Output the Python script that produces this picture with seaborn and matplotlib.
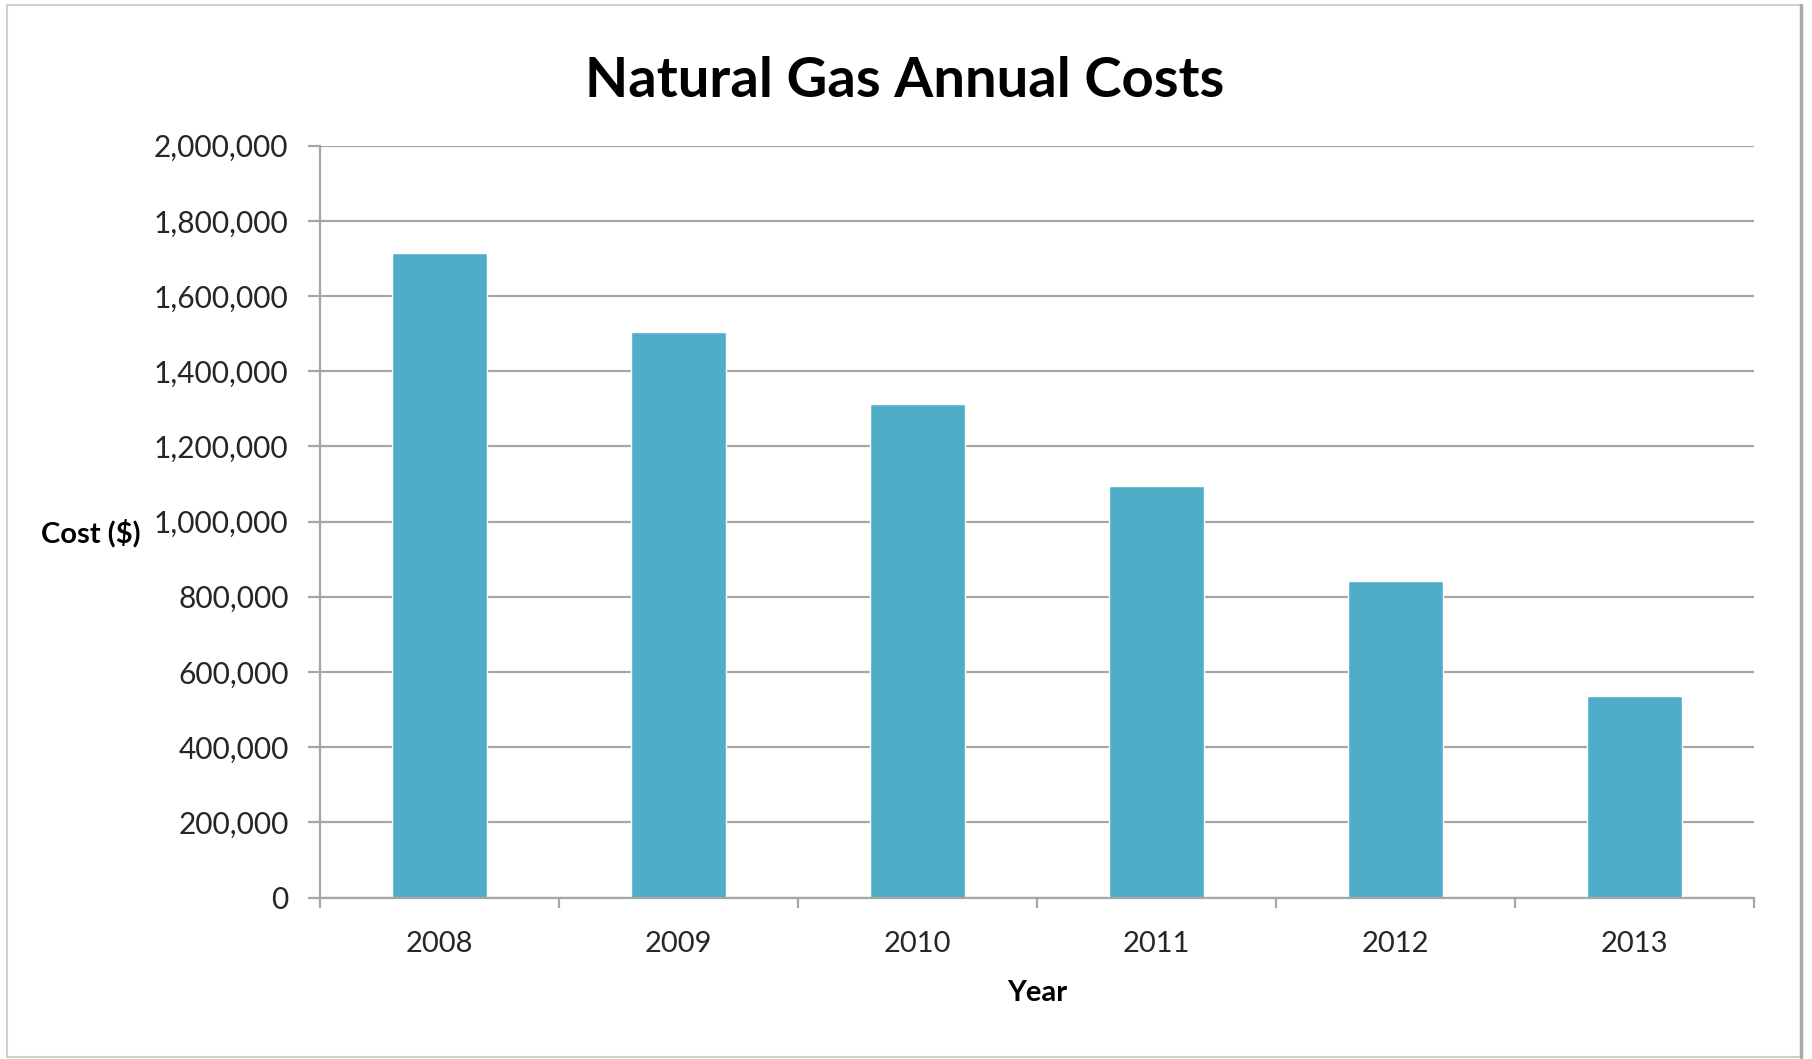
import matplotlib
matplotlib.use("Agg")
import matplotlib.pyplot as plt
from matplotlib.ticker import FuncFormatter, FixedLocator
from matplotlib.lines import Line2D
import seaborn as sns
import pandas as pd

# Annual natural gas costs in dollars
years = ["2008", "2009", "2010", "2011", "2012", "2013"]
costs = [1715000, 1505000, 1312000, 1095000, 842000, 537000]

title_text = "Natural Gas Annual Costs"
x_label = "Year"
y_label = "Cost ($)"
y_ticks = [0, 200000, 400000, 600000, 800000, 1000000, 1200000, 1400000,
           1600000, 1800000, 2000000]

bar_color = "#4FADC7"
grid_color = "#A6A6A6"

sns.set_theme(style="white")
plt.rcParams["font.family"] = ["Lato", "DejaVu Sans"]

df = pd.DataFrame({"Year": years, "Cost": costs})

W, H = 1812, 1059
fig = plt.figure(figsize=(W / 100, H / 100), dpi=100)
fig.patch.set_facecolor("white")

# plot area in pixel coordinates
left_px, right_px, top_px, bottom_px = 320, 1754, 145.7, 897.5
ax = fig.add_axes([left_px / W, 1 - bottom_px / H,
                   (right_px - left_px) / W, (bottom_px - top_px) / H])

sns.barplot(data=df, x="Year", y="Cost", color=bar_color, width=0.4,
            saturation=1, ax=ax, zorder=3)

ax.set_xlim(-0.5, len(years) - 0.5)
ax.set_ylim(0, 2000000)
ax.yaxis.set_major_locator(FixedLocator(y_ticks))
ax.yaxis.set_major_formatter(FuncFormatter(lambda v, p: f"{int(v):,}"))

ax.grid(axis="y", color=grid_color, linewidth=1.6, zorder=0)
ax.grid(axis="x", visible=False)

for side in ["top", "right"]:
    ax.spines[side].set_visible(False)
for side in ["left", "bottom"]:
    ax.spines[side].set_color(grid_color)
    ax.spines[side].set_linewidth(1.6)
    ax.spines[side].set_zorder(4)

# category separators below the x axis
ax.xaxis.set_minor_locator(FixedLocator([i - 0.5 for i in range(len(years) + 1)]))
ax.tick_params(axis="x", which="minor", bottom=True, length=7, width=1.6,
               color=grid_color, direction="out")
ax.tick_params(axis="x", which="major", bottom=True, length=0, pad=24,
               labelsize=21, labelcolor="#262626")
ax.tick_params(axis="y", which="major", left=True, length=8.6, width=1.6,
               color=grid_color, direction="out", pad=14,
               labelsize=21.5, labelcolor="#262626")

ax.set_xlabel(x_label, fontsize=21, fontweight="bold", color="black")
ax.set_ylabel(y_label, fontsize=21, fontweight="bold", color="black",
              rotation=0, ha="center", va="center")
ax.yaxis.set_label_coords((91 - left_px) / (right_px - left_px),
                          (bottom_px - 533) / (bottom_px - top_px))
ax.xaxis.set_label_coords(0.5, (bottom_px - 993) / (bottom_px - top_px))
ax.xaxis.label.set_va("center")

fig.text(905 / W, 1 - 81 / H, title_text, fontsize=40.5, fontweight="bold",
         ha="center", va="center", color="black")

# chart frame with a soft shadow on the right edge
def px(x, y):
    return x / W, 1 - y / H

frame = [((7, 5), (1801, 5)), ((7, 5), (7, 1057)), ((7, 1057), (1801, 1057))]
for (a, b) in frame:
    fig.add_artist(Line2D([px(*a)[0], px(*b)[0]], [px(*a)[1], px(*b)[1]],
                          color="#D0D0D0", linewidth=1.5))
fig.add_artist(Line2D([px(1801, 5)[0]] * 2, [px(1801, 5)[1], px(1801, 1057)[1]],
                      color="#A8A8A8", linewidth=2.5))

fig.savefig("out.png", dpi=100, facecolor="white")
